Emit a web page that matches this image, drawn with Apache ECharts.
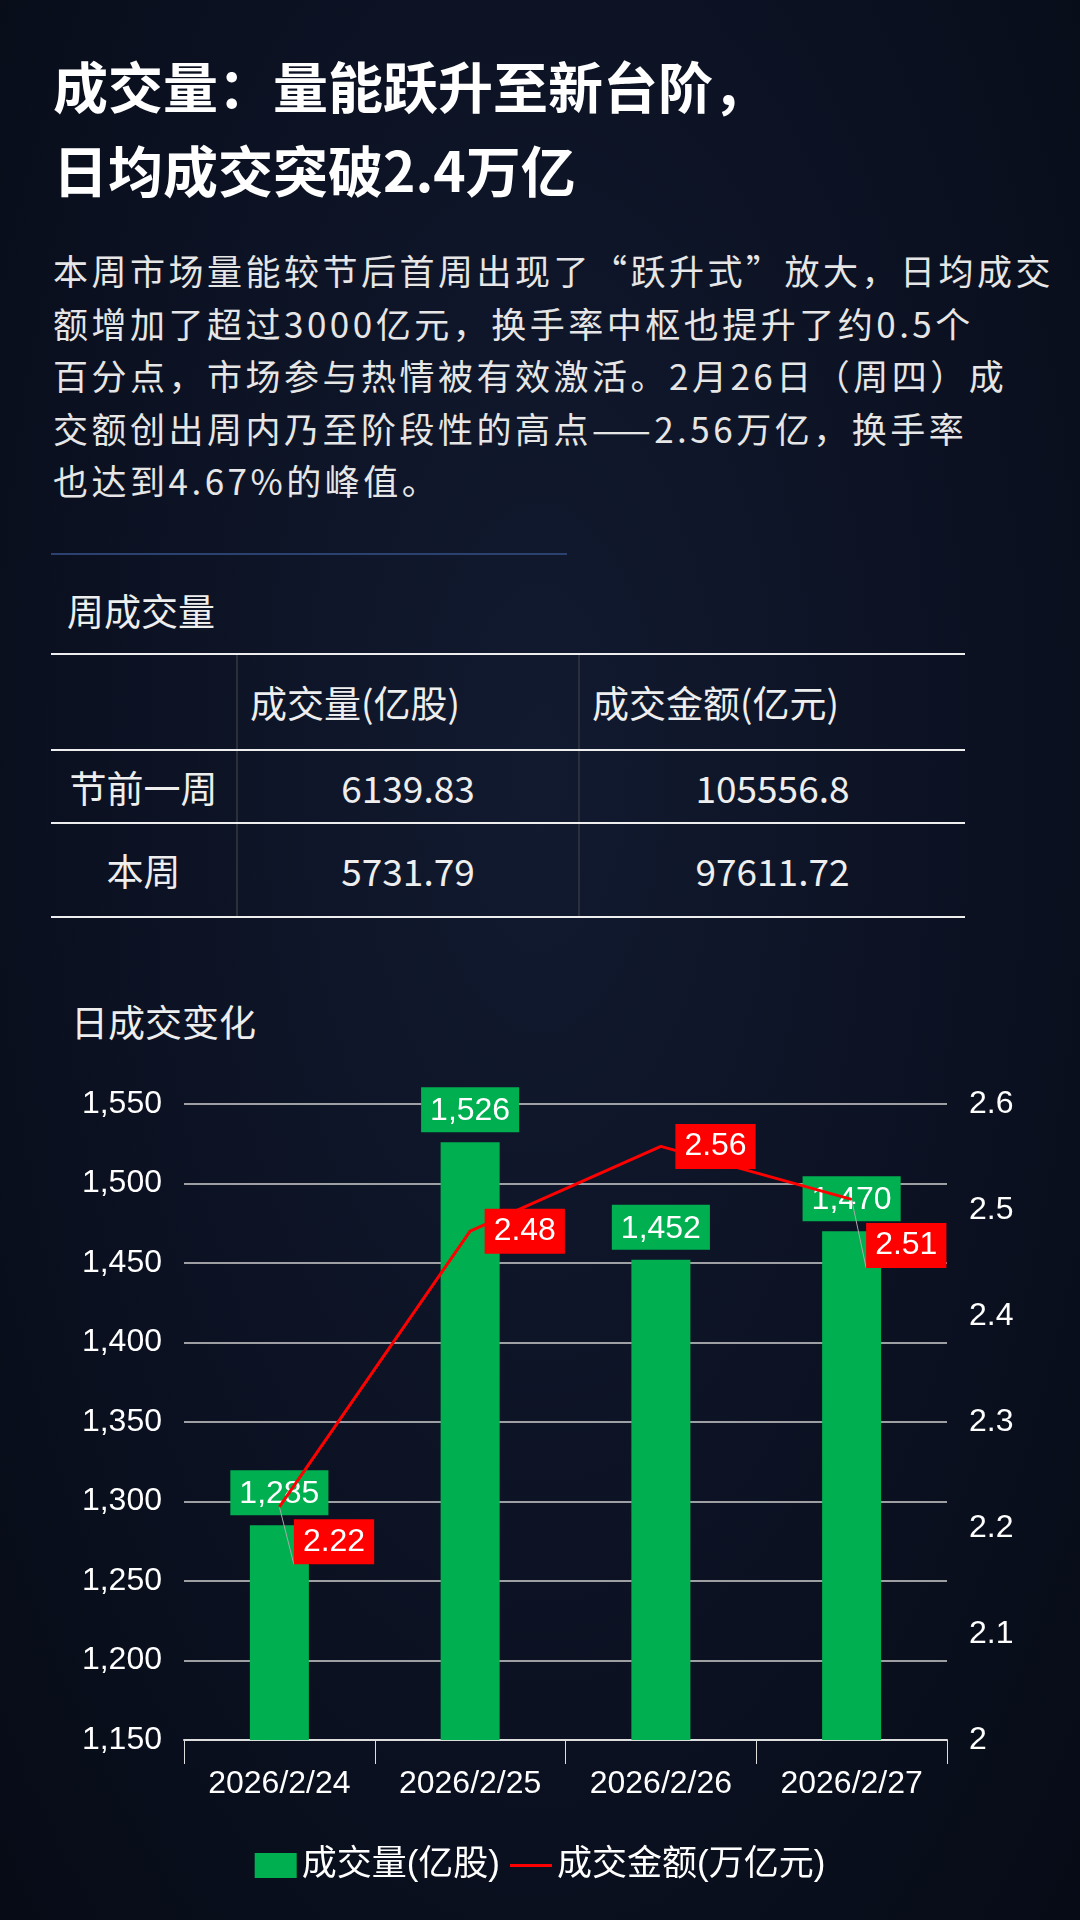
<!DOCTYPE html>
<html>
<head>
<meta charset="utf-8">
<script src="https://cdn.jsdelivr.net/npm/echarts@6/dist/echarts.min.js"></script>
<style>
  body { margin:0; width:1080px; height:1920px; overflow:hidden;
    background: radial-gradient(ellipse at 50% 40%, #121a30 0%, #0b1121 60%, #070b16 100%);
    font-family: "Noto Sans CJK SC", sans-serif; color:#fff; position:relative; }
  .title { position:absolute; left:53px; top:42px; font-size:55px; font-weight:bold; line-height:84px; }
  .para { position:absolute; left:53px; top:244px; width:1040px; font-size:35px; line-height:52.5px; letter-spacing:3.5px; color:#e6e6e6; white-space:nowrap; }
  .sep { position:absolute; left:51px; top:553px; width:516px; height:2px; background:#2b416f; }
  .sub { position:absolute; left:67px; font-size:37px; color:#eee; }
  table { position:absolute; left:51px; top:653px; width:914px; border-collapse:collapse; table-layout:fixed; font-size:37px; color:#eee; }
  td { border-top:2px solid #eee; border-bottom:2px solid #eee; text-align:center; height:92px; padding:0; }
  td + td { border-left:2px solid #2a2f3a; }
  tr:first-child td { height:94px; text-align:left; padding-left:12px; }
  #chart { position:absolute; left:0; top:1000px; width:1080px; height:920px; }
</style>
</head>
<body>
<div class="title">成交量：量能跃升至新台阶，<br>日均成交突破2.4万亿</div>
<div class="para">本周市场量能较节后首周出现了“跃升式”放大，日均成交<br>额增加了超过3000亿元，换手率中枢也提升了约0.5个<br>百分点，市场参与热情被有效激活。2月26日（周四）成<br>交额创出周内乃至阶段性的高点——2.56万亿，换手率<br>也达到4.67%的峰值。</div>
<div class="sep"></div>
<div class="sub" style="top:583px">周成交量</div>
<table>
  <tr><td style="width:173px"></td><td style="width:328px">成交量(亿股)</td><td>成交金额(亿元)</td></tr>
  <tr><td style="height:71px">节前一周</td><td style="height:71px">6139.83</td><td style="height:71px">105556.8</td></tr>
  <tr><td>本周</td><td>5731.79</td><td>97611.72</td></tr>
</table>
<div class="sub" style="top:994px;left:71px">日成交变化</div>
<div id="chart"></div>
<script>
var dates = ['2026/2/24', '2026/2/25', '2026/2/26', '2026/2/27'];
var volume = [1285, 1526, 1452, 1470];
var turnover = [2.22, 2.48, 2.56, 2.51];
var lineOffsets = [[0, 35], [0, 0], [0, 0], [0, 46]];

var chart = echarts.init(document.getElementById('chart'));
var font = '"Liberation Sans", "Noto Sans CJK SC", sans-serif';
chart.setOption({
  textStyle: { fontFamily: font },
  grid: { left: 184, right: 133, top: 104, bottom: 180 },
  legend: {
    bottom: 32, itemGap: 10, itemWidth: 42, itemHeight: 25,
    textStyle: { color: '#fff', fontSize: 35, fontFamily: font },
    data: [{ name: '成交量(亿股)', icon: 'rect' },
           { name: '成交金额(万亿元)', icon: 'path://M0,11L42,11L42,14L0,14Z' }]
  },
  xAxis: {
    type: 'category', data: dates,
    axisLine: { lineStyle: { color: '#ddd', width: 2 } },
    axisTick: { show: true, length: 24, lineStyle: { color: '#ddd' } },
    axisLabel: { color: '#fff', fontSize: 32, margin: 28, interval: 0 }
  },
  yAxis: [
    { type: 'value', min: 1150, max: 1550, interval: 50,
      axisLabel: { color: '#fff', fontSize: 32, margin: 22,
        formatter: function (v) { return v.toLocaleString('en-US'); } },
      splitLine: { lineStyle: { color: '#cfcfcf', width: 1.5 } } },
    { type: 'value', min: 2, max: 2.6, interval: 0.1,
      axisLabel: { color: '#fff', fontSize: 32, margin: 22,
        formatter: function (v) { return +v.toFixed(1) + ''; } },
      splitLine: { show: false } }
  ],
  series: [
    { name: '成交量(亿股)', type: 'bar', data: volume, barWidth: 59,
      itemStyle: { color: '#00b050' },
      label: { show: true, position: 'top', distance: 10, color: '#fff', fontSize: 32,
        backgroundColor: '#00b050', padding: [8, 9, 5, 9],
        formatter: function (p) { return p.value.toLocaleString('en-US'); } } },
    { name: '成交金额(万亿元)', type: 'line', yAxisIndex: 1, symbol: 'circle', symbolSize: 1,
      lineStyle: { color: '#ff0000', width: 3 }, itemStyle: { color: '#ff0000' },
      data: turnover.map(function (v, i) {
        var moved = lineOffsets[i][1] !== 0;
        return { value: v, label: { offset: lineOffsets[i] },
          labelLine: { show: moved, lineStyle: { color: '#aaa' } } };
      }),
      label: { show: true, position: 'right', distance: 14, color: '#fff', fontSize: 32,
        backgroundColor: '#ff0000', padding: [8, 9, 5, 9] } }
  ]
});
</script>
</body>
</html>
